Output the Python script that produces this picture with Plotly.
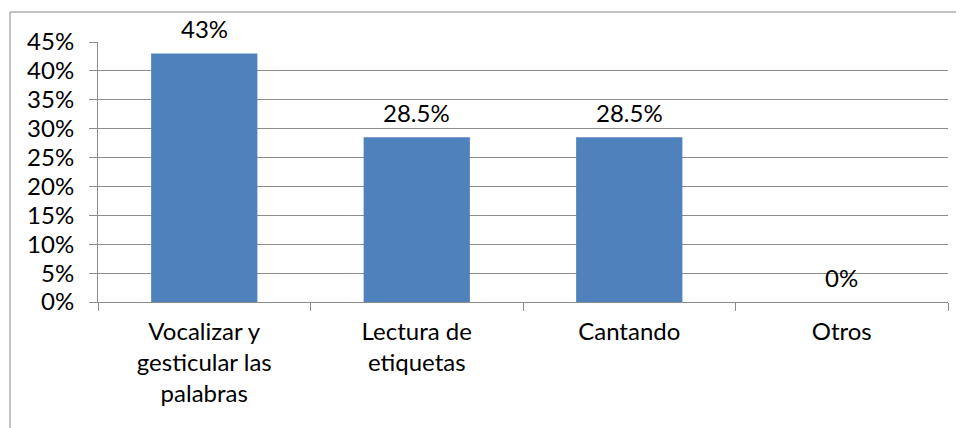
import plotly.graph_objects as go

categories = ["Vocalizar y<br>gesticular las<br>palabras", "Lectura de<br>etiquetas", "Cantando", "Otros"]
values = [43, 28.5, 28.5, 0]
value_labels = ["43%", "28.5%", "28.5%", "0%"]
y_ticks = [0, 5, 10, 15, 20, 25, 30, 35, 40, 45]
y_tick_labels = ["0%", "5%", "10%", "15%", "20%", "25%", "30%", "35%", "40%", "45%"]

FONT = "Lato, Calibri, sans-serif"
GRID = "#8c8c8c"
FS = 24

fig = go.Figure(go.Bar(
    x=categories, y=values,
    marker=dict(color="#4F81BD", line=dict(width=0)),
    cliponaxis=False, width=0.5,
))

for c, v, t in zip(categories, values, value_labels):
    fig.add_annotation(x=c, y=v, text=t, showarrow=False, yshift=25,
                       yanchor="middle", xanchor="center",
                       font=dict(family=FONT, size=FS, color="#000000"))

# page body has an 8px margin, so figure coords = window coords - 8
W, H = 956, 420
L, R, T, B = 90, 16, 34, 126
pw, ph = W - L - R, H - T - B

fig.update_layout(
    width=W, height=H,
    margin=dict(l=L, r=R, t=T, b=B, pad=0, autoexpand=False),
    paper_bgcolor="white", plot_bgcolor="white",
    showlegend=False,
    font=dict(family=FONT, size=FS, color="#000000"),
    xaxis=dict(
        automargin=False,
        showgrid=False, showline=True, linecolor=GRID, linewidth=1,
        ticks="outside", tickson="boundaries", ticklen=8, tickcolor=GRID,
        tickfont=dict(family=FONT, size=FS), ticklabelstandoff=8,
    ),
    yaxis=dict(
        automargin=False,
        range=[0, 45], tickvals=y_ticks, ticktext=y_tick_labels,
        showgrid=True, gridcolor=GRID, gridwidth=1,
        showline=True, linecolor=GRID, linewidth=1,
        ticks="outside", ticklen=8, tickcolor=GRID,
        tickfont=dict(family=FONT, size=FS), ticklabelstandoff=10,
        zeroline=False,
    ),
    shapes=[dict(
        type="rect", xref="paper", yref="paper",
        x0=(2 - L) / pw, x1=(W + 20 - L) / pw,
        y0=-(B + 20) / ph, y1=1 + (T - 4) / ph,
        line=dict(color="#8a8a8a", width=1), fillcolor="rgba(0,0,0,0)",
        layer="below",
    )],
)

fig.write_html("out.html")
